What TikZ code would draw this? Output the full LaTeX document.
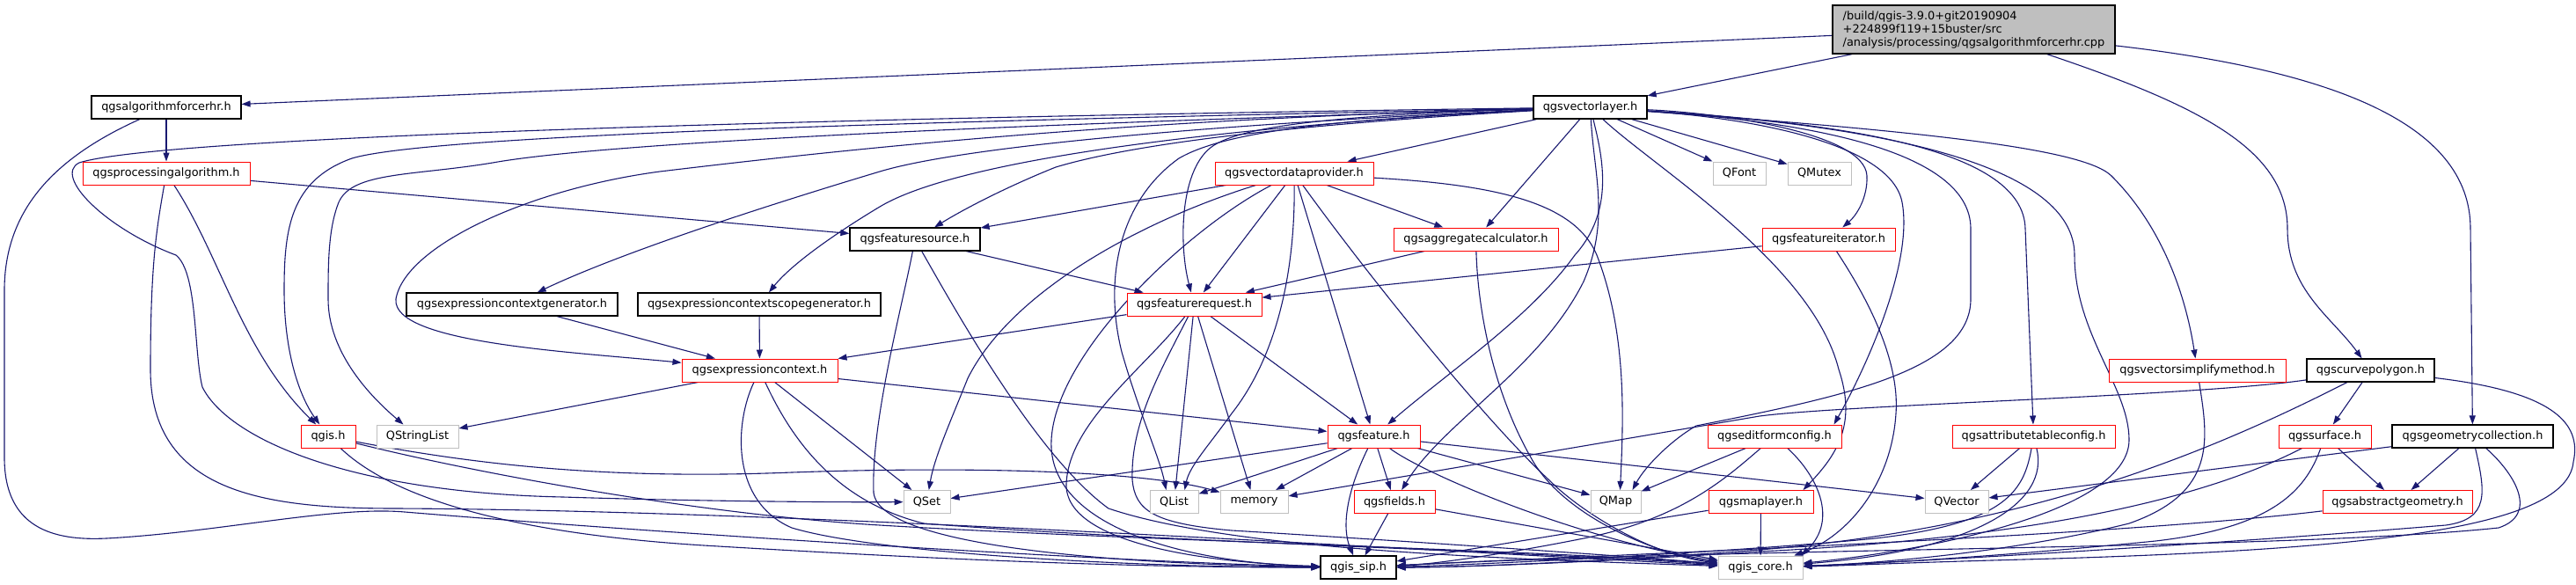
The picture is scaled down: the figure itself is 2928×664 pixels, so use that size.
\documentclass[tikz,border=0pt]{standalone}
\usepackage{fontspec}
\setmainfont{DejaVu Sans}
\usetikzlibrary{arrows.meta}
\definecolor{edgecol}{RGB}{25,25,112}
\definecolor{redb}{RGB}{255,0,0}
\definecolor{grayb}{RGB}{191,191,191}
\definecolor{topfill}{RGB}{191,191,191}
\definecolor{blackb}{RGB}{0,0,0}
\newcommand\nodefont{\fontsize{12.9}{15}\selectfont}
\pgfdeclarelayer{bglayer}
\pgfdeclarelayer{edgelayer}
\pgfsetlayers{bglayer,edgelayer,main}
\tikzset{
  box/.style={draw, line width=1pt, minimum height=26pt, inner sep=0pt, font=\nodefont, fill=white},
  redbox/.style={box, draw=redb},
  graybox/.style={box, draw=grayb},
  blackbox/.style={box, draw=blackb, line width=1.2pt},
  edge/.style={draw=edgecol, line width=1.1pt, -{Triangle[length=10pt,width=7pt]}},
}
\begin{document}
\begin{tikzpicture}[x=1pt,y=-1pt]
\begin{pgfonlayer}{bglayer}
\fill[white] (0,0) rectangle (2928,664);
\end{pgfonlayer}
\useasboundingbox (0,0) rectangle (2928,664);
% row 1
\node[blackbox, fill=topfill, minimum width=321pt, minimum height=55pt, align=left] (top) at (2243.5,33.5) {/build/qgis-3.9.0+git20190904\\+224899f119+15buster/src\\/analysis/processing/qgsalgorithmforcerhr.cpp};
% row 2
\node[blackbox, minimum width=170pt] (forcerhr) at (189,122) {qgsalgorithmforcerhr.h};
\node[blackbox, minimum width=129pt] (vlayer) at (1807.5,122) {qgsvectorlayer.h};
% row 3
\node[redbox, minimum width=190pt] (procalg) at (189,197) {qgsprocessingalgorithm.h};
\node[redbox, minimum width=180pt] (vdp) at (1471,197) {qgsvectordataprovider.h};
\node[graybox, minimum width=60pt] (qfont) at (1977,197) {QFont};
\node[graybox, minimum width=72pt] (qmutex) at (2068,197) {QMutex};
% row 4
\node[blackbox, minimum width=148pt] (fsource) at (1040,272) {qgsfeaturesource.h};
\node[redbox, minimum width=187pt] (aggcalc) at (1677.5,272) {qgsaggregatecalculator.h};
\node[redbox, minimum width=151pt] (fiter) at (2078.5,272) {qgsfeatureiterator.h};
% row 5
\node[blackbox, minimum width=240pt] (ecgen) at (582,346) {qgsexpressioncontextgenerator.h};
\node[blackbox, minimum width=276pt] (ecsgen) at (863,346) {qgsexpressioncontextscopegenerator.h};
\node[redbox, minimum width=153pt] (freq) at (1357.5,346) {qgsfeaturerequest.h};
% row 6
\node[redbox, minimum width=177pt] (ectx) at (863.5,421) {qgsexpressioncontext.h};
\node[redbox, minimum width=201pt] (vsimp) at (2497.5,421) {qgsvectorsimplifymethod.h};
\node[blackbox, minimum width=145pt] (cpoly) at (2694.5,421) {qgscurvepolygon.h};
% row 7
\node[redbox, minimum width=62pt] (qgis) at (373,496) {qgis.h};
\node[graybox, minimum width=93pt] (qsl) at (474.5,496) {QStringList};
\node[redbox, minimum width=105pt] (feat) at (1561.5,496) {qgsfeature.h};
\node[redbox, minimum width=152pt] (efc) at (2017,496) {qgseditformconfig.h};
\node[redbox, minimum width=185pt] (atc) at (2311.5,496) {qgsattributetableconfig.h};
\node[redbox, minimum width=105pt] (surf) at (2642.5,496) {qgssurface.h};
\node[blackbox, minimum width=183pt] (gcoll) at (2810.5,496) {qgsgeometrycollection.h};
% row 8
\node[graybox, minimum width=53pt] (qset) at (1053.5,570.5) {QSet};
\node[graybox, minimum width=55pt] (qlist) at (1334.5,570.5) {QList};
\node[graybox, minimum width=77pt] (mem) at (1425.5,570.5) {memory};
\node[redbox, minimum width=92pt] (fields) at (1585,570.5) {qgsfields.h};
\node[graybox, minimum width=57pt] (qmap) at (1836.5,570.5) {QMap};
\node[redbox, minimum width=119pt] (mlayer) at (2001.5,570.5) {qgsmaplayer.h};
\node[graybox, minimum width=72pt] (qvec) at (2224,570.5) {QVector};
\node[redbox, minimum width=170pt] (ageom) at (2725,570.5) {qgsabstractgeometry.h};
% row 9
\node[blackbox, minimum width=86pt] (sip) at (1544,645) {qgis\_sip.h};
\node[graybox, minimum width=96pt] (core) at (2001,645) {qgis\_core.h};

\begin{pgfonlayer}{edgelayer}
% top
\draw[edge] (top) -- (forcerhr);
\draw[edge] (top) -- (vlayer);
\draw[edge] (top) .. controls (2500,120) and (2600,170) .. (2600,260) .. controls (2600,330) and (2650,360) .. (cpoly);
\draw[edge] (top) .. controls (2650,80) and (2808,140) .. (2808,260) -- (gcoll);
% forcerhr
\draw[edge] (forcerhr) -- (procalg);
\draw[edge] (forcerhr) .. controls (60,180) and (5,240) .. (5,330) -- (5,520) .. controls (5,600) and (60,615) .. (121,612) .. controls (250,605) and (380,575) .. (460,582) .. controls (800,610) and (1300,640) .. (sip);
% procalg
\draw[edge] (procalg) -- (fsource);
\draw[edge] (procalg) .. controls (250,290) and (275,400) .. (qgis);
\draw[edge] (procalg) .. controls (178,260) and (171,300) .. (171,420) .. controls (171,560) and (300,578) .. (450,578) .. controls (900,580) and (1600,625) .. (core);
% vlayer
\draw[edge] (vlayer) .. controls (1200,130) and (200,150) .. (90,185) .. controls (60,200) and (120,260) .. (200,290) .. controls (225,310) and (220,400) .. (230,440) .. controls (260,500) and (400,560) .. (640,565) .. controls (800,570) and (950,571) .. (qset);
\draw[edge] (vlayer) .. controls (1200,135) and (500,150) .. (400,180) .. controls (330,205) and (323,260) .. (323,330) .. controls (323,400) and (340,450) .. (qgis);
\draw[edge] (vlayer) .. controls (1200,140) and (700,160) .. (560,185) .. controls (470,200) and (400,195) .. (385,230) .. controls (373,260) and (373,300) .. (373,340) .. controls (373,400) and (420,450) .. (qsl);
\draw[edge] (vlayer) .. controls (1300,135) and (1000,165) .. (750,195) .. controls (600,215) and (460,280) .. (450,340) .. controls (445,390) and (650,400) .. (ectx);
\draw[edge] (vlayer) .. controls (1400,140) and (1100,165) .. (1000,195) .. controls (850,240) and (700,290) .. (ecgen);
\draw[edge] (vlayer) .. controls (1450,140) and (1100,175) .. (1000,235) .. controls (950,265) and (900,300) .. (ecsgen);
\draw[edge] (vlayer) .. controls (1500,140) and (1300,160) .. (1200,190) .. controls (1150,210) and (1100,235) .. (fsource);
\draw[edge] (vlayer) .. controls (1550,130) and (1420,140) .. (1380,165) .. controls (1340,190) and (1340,280) .. (freq);
\draw[edge] (vlayer) .. controls (1550,135) and (1400,145) .. (1340,180) .. controls (1270,230) and (1255,320) .. (1275,400) .. controls (1295,470) and (1318,520) .. ([xshift=-9pt]qlist.north);
\draw[edge] (vlayer) -- (vdp);
\draw[edge] (vlayer) -- (aggcalc);
\draw[edge] (vlayer) .. controls (1812,200) and (1830,250) .. (1800,320) .. controls (1750,420) and (1640,480) .. (fields);
\draw[edge] (vlayer) .. controls (1822,180) and (1835,240) .. (1790,290) .. controls (1740,360) and (1650,420) .. (feat);
\draw[edge] (vlayer) .. controls (1880,190) and (2060,300) .. (2090,420) .. controls (2110,480) and (2090,515) .. ([xshift=-12pt]mlayer.north east);
\draw[edge] (vlayer) -- (qfont);
\draw[edge] (vlayer) -- (qmutex);
\draw[edge] (vlayer) .. controls (1950,128) and (2120,150) .. (2122,200) .. controls (2123,225) and (2110,245) .. (fiter);
\draw[edge] (vlayer) .. controls (2000,135) and (2150,165) .. (2162,230) .. controls (2175,300) and (2120,420) .. ([xshift=-9pt]efc.north east);
\draw[edge] (vlayer) .. controls (2050,138) and (2240,170) .. (2240,260) -- (2240,340) .. controls (2240,420) and (2100,450) .. (1928,484) .. controls (1900,500) and (1870,530) .. ([xshift=-10pt]qmap.north east);
\draw[edge] (vlayer) .. controls (2100,140) and (2300,170) .. (2302,260) -- (atc);
\draw[edge] (vlayer) .. controls (2150,143) and (2358,190) .. (2358,290) .. controls (2358,380) and (2420,440) .. (2420,500) .. controls (2420,580) and (2200,625) .. (core);
\draw[edge] (vlayer) .. controls (2200,150) and (2370,170) .. (2400,200) .. controls (2460,260) and (2485,340) .. (vsimp);
% vdp
\draw[edge] (vdp) -- (fsource);
\draw[edge] (vdp) .. controls (1300,250) and (1150,330) .. (1100,430) .. controls (1080,480) and (1062,520) .. (qset);
\draw[edge] (vdp) .. controls (1350,260) and (1200,400) .. (1195,500) .. controls (1190,600) and (1350,640) .. (sip);
\draw[edge] (vdp) -- (freq);
\draw[edge] (vdp) .. controls (1472,300) and (1455,400) .. (1400,470) .. controls (1375,505) and (1352,530) .. ([xshift=12pt]qlist.north);
\draw[edge] (vdp) -- (feat);
\draw[edge] (vdp) .. controls (1560,320) and (1690,480) .. (1760,545) .. controls (1800,585) and (1880,632) .. (core);
\draw[edge] (vdp) -- (aggcalc);
\draw[edge] (vdp) .. controls (1700,210) and (1790,230) .. (1815,290) .. controls (1850,380) and (1845,480) .. ([xshift=5pt]qmap.north);
% fsource
\draw[edge] (fsource) -- (freq);
\draw[edge] (fsource) .. controls (1025,350) and (990,480) .. (993,560) .. controls (1000,625) and (1300,642) .. (sip);
\draw[edge] (fsource) .. controls (1090,360) and (1180,520) .. (1260,578) .. controls (1400,625) and (1700,635) .. (core);
% freq
\draw[edge] (freq) -- (ectx);
\draw[edge] (freq) -- (feat);
\draw[edge] (freq) -- (mem);
\draw[edge] (freq) -- (qlist);
\draw[edge] (freq) .. controls (1300,420) and (1215,480) .. (1212,550) .. controls (1210,620) and (1380,640) .. (sip);
\draw[edge] (freq) .. controls (1320,420) and (1285,480) .. (1287,545) .. controls (1290,580) and (1310,595) .. (1400,603) .. controls (1550,612) and (1850,632) .. (core);
% aggcalc
\draw[edge] (aggcalc) -- (freq);
\draw[edge] (aggcalc) .. controls (1680,360) and (1700,450) .. (1740,520) .. controls (1775,585) and (1880,630) .. (core);
% fiter
\draw[edge] (fiter) -- (freq);
\draw[edge] (fiter) .. controls (2110,320) and (2160,400) .. (2155,470) .. controls (2150,550) and (2100,610) .. (core);
% generators
\draw[edge] (ecgen) -- (ectx);
\draw[edge] (ecsgen) -- (ectx);
% ectx
\draw[edge] (ectx) -- (qsl);
\draw[edge] (ectx) -- (feat);
\draw[edge] (ectx) -- (qset);
\draw[edge] (ectx) .. controls (835,480) and (830,570) .. (900,600) .. controls (1000,630) and (1300,645) .. (sip);
\draw[edge] (ectx) .. controls (900,500) and (950,570) .. (1050,595) .. controls (1300,615) and (1700,625) .. (core);
% qgis
\draw[edge] (qgis) .. controls (550,530) and (700,545) .. (900,537) .. controls (1100,530) and (1300,535) .. (mem);
\draw[edge] (qgis) .. controls (550,540) and (800,585) .. (1000,597) .. controls (1300,615) and (1750,625) .. (core);
\draw[edge] (qgis) .. controls (440,560) and (560,605) .. (800,620) .. controls (1100,638) and (1300,645) .. (sip);
% feat
\draw[edge] (feat) -- (qset);
\draw[edge] (feat) -- (qlist);
\draw[edge] (feat) -- (mem);
\draw[edge] (feat) .. controls (1530,560) and (1525,600) .. (sip);
\draw[edge] (feat) -- (fields);
\draw[edge] (feat) .. controls (1620,540) and (1800,615) .. (core);
\draw[edge] (feat) -- (qmap);
\draw[edge] (feat) -- (qvec);
% fields
\draw[edge] (fields) -- (sip);
\draw[edge] (fields) -- (core);
% efc
\draw[edge] (efc) -- (qmap);
\draw[edge] (efc) .. controls (1960,545) and (1910,590) .. (1800,612) .. controls (1700,632) and (1620,642) .. (sip);
\draw[edge] (efc) .. controls (2065,540) and (2090,590) .. ([xshift=-2pt]core.north east);
% mlayer
\draw[edge] (mlayer) -- (sip);
\draw[edge] (mlayer) -- (core);
% atc
\draw[edge] (atc) -- (qvec);
\draw[edge] (atc) .. controls (2300,560) and (2280,600) .. (2100,615) .. controls (1900,632) and (1650,643) .. (sip);
\draw[edge] (atc) .. controls (2330,570) and (2250,625) .. (core);
% vsimp
\draw[edge] (vsimp) .. controls (2510,500) and (2520,560) .. (2420,595) .. controls (2300,625) and (2150,640) .. (core);
% cpoly
\draw[edge] (cpoly) .. controls (2500,450) and (2100,460) .. (2000,473) -- (mem);
\draw[edge] (cpoly) .. controls (2500,520) and (2300,600) .. (2000,625) .. controls (1800,640) and (1650,645) .. (sip);
\draw[edge] (cpoly) -- (surf);
\draw[edge] (cpoly) .. controls (2900,445) and (2935,480) .. (2925,525) .. controls (2918,600) and (2700,625) .. (2300,636) .. controls (2150,640) and (2100,643) .. (core);
% surf
\draw[edge] (surf) -- (ageom);
\draw[edge] (surf) .. controls (2500,570) and (2300,612) .. (2000,627) .. controls (1800,640) and (1650,645) .. (sip);
\draw[edge] (surf) .. controls (2620,560) and (2580,600) .. (2450,615) .. controls (2250,635) and (2100,642) .. (core);
% gcoll
\draw[edge] (gcoll) -- (qvec);
\draw[edge] (gcoll) -- (ageom);
\draw[edge] (gcoll) .. controls (2825,560) and (2830,590) .. (2780,597) .. controls (2500,620) and (2150,640) .. (core);
\draw[edge] (gcoll) .. controls (2860,540) and (2885,585) .. (2840,600) .. controls (2600,625) and (2000,622) .. (sip);
% ageom
\draw[edge] (ageom) .. controls (2400,610) and (1800,632) .. (sip);
\end{pgfonlayer}
\end{tikzpicture}
\end{document}
